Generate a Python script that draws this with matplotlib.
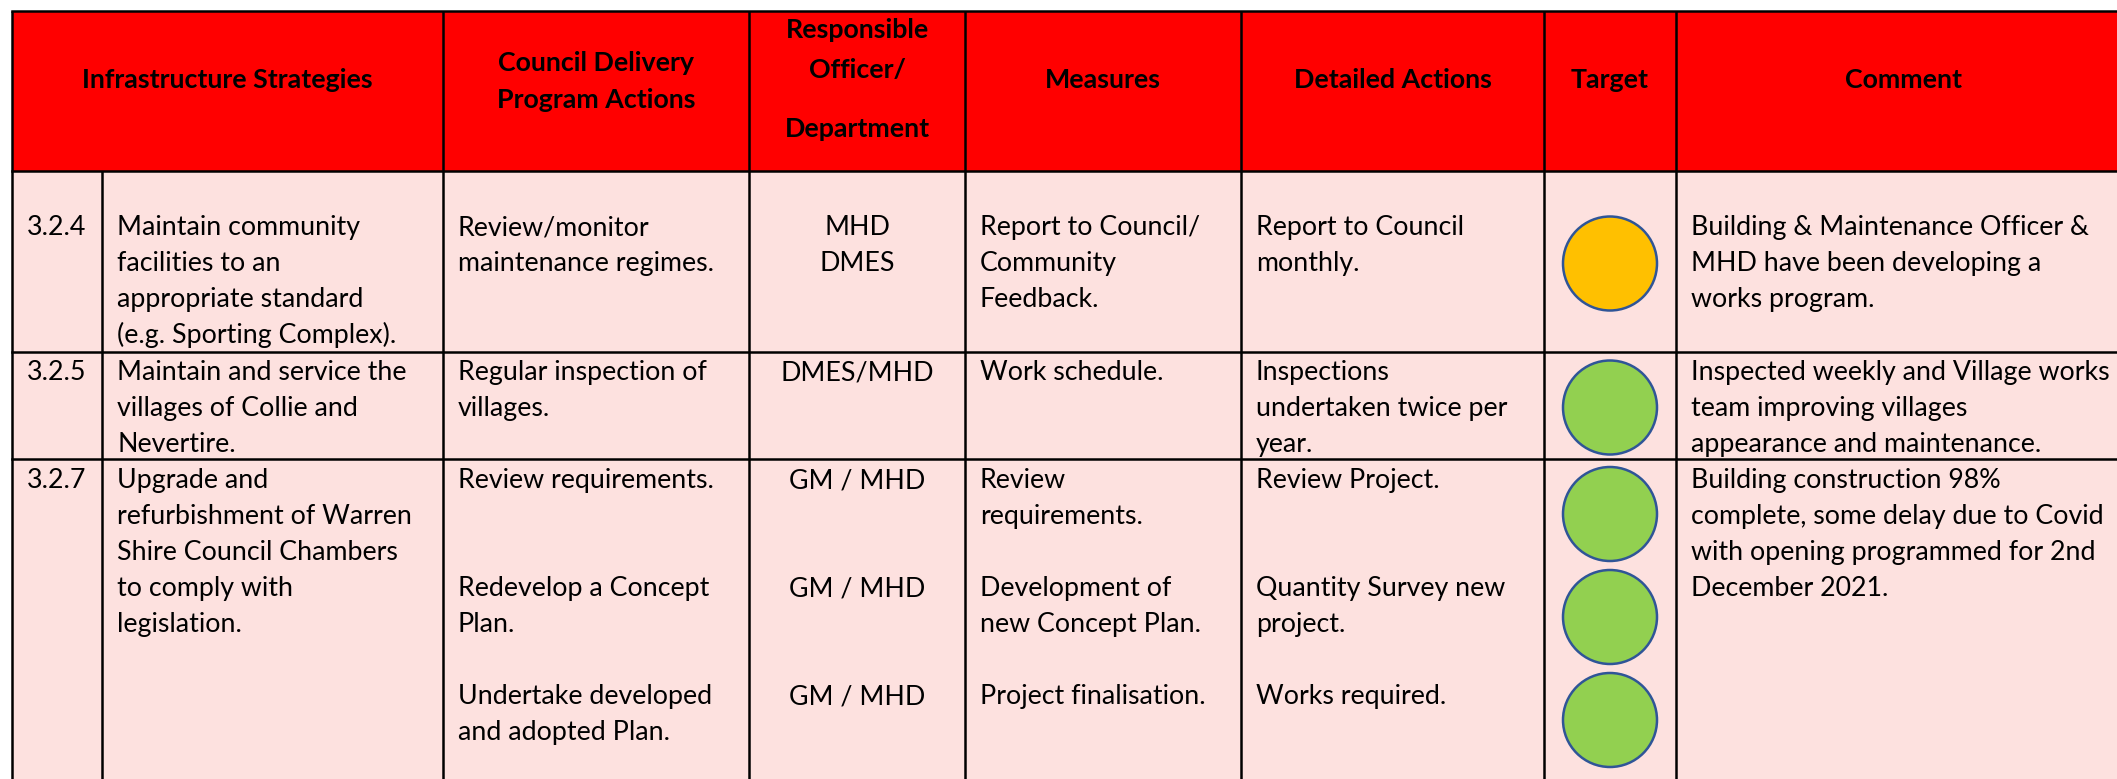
import matplotlib.pyplot as plt
from matplotlib.patches import Rectangle, Circle

plt.rcParams['font.family'] = ['Lato', 'DejaVu Sans']

# table content
headers = ['Infrastructure Strategies', 'Council Delivery\nProgram Actions',
           'Responsible\nOfficer/\nDepartment', 'Measures', 'Detailed Actions',
           'Target', 'Comment']

ids = ['3.2.4', '3.2.5', '3.2.7']
strategies = ['Maintain community\nfacilities to an\nappropriate standard\n(e.g. Sporting Complex).',
              'Maintain and service the\nvillages of Collie and\nNevertire.',
              'Upgrade and\nrefurbishment of Warren\nShire Council Chambers\nto comply with\nlegislation.']
delivery_actions = ['Review/monitor\nmaintenance regimes.',
                    'Regular inspection of\nvillages.',
                    'Review requirements.\n\n\nRedevelop a Concept\nPlan.\n\nUndertake developed\nand adopted Plan.']
officers = ['MHD\nDMES',
            'DMES/MHD',
            'GM / MHD\n\n\nGM / MHD\n\n\nGM / MHD']
measures = ['Report to Council/\nCommunity\nFeedback.',
            'Work schedule.',
            'Review\nrequirements.\n\nDevelopment of\nnew Concept Plan.\n\nProject finalisation.']
detailed_actions = ['Report to Council\nmonthly.',
                    'Inspections\nundertaken twice per\nyear.',
                    'Review Project.\n\n\nQuantity Survey new\nproject.\n\nWorks required.']
targets = [['amber'], ['green'], ['green', 'green', 'green']]
comments = ['Building & Maintenance Officer &\nMHD have been developing a\nworks program.',
            'Inspected weekly and Village works\nteam improving villages\nappearance and maintenance.',
            'Building construction 98%\ncomplete, some delay due to Covid\nwith opening programmed for 2nd\nDecember 2021.']

status_colors = {'amber': '#FFC000', 'green': '#92D050'}

# layout (pixels)
W, H = 2117, 779
col_x = [12, 102, 443, 749, 965, 1241, 1544, 1676, 2130]
row_y = [11, 171, 352, 459, 800]
first_base = [64, 28, 29]
line_step = 36
pad = 15
fs = 19.3

fig = plt.figure(figsize=(W / 100, H / 100), dpi=100)
ax = fig.add_axes([0, 0, 1, 1])
ax.set_xlim(0, W)
ax.set_ylim(H, 0)
ax.axis('off')

ax.add_patch(Rectangle((col_x[0], row_y[0]), col_x[-1] - col_x[0], row_y[1] - row_y[0],
                       facecolor='#FF0000', edgecolor='none'))
ax.add_patch(Rectangle((col_x[0], row_y[1]), col_x[-1] - col_x[0], row_y[-1] - row_y[1],
                       facecolor='#FDE1DF', edgecolor='none'))

lw = 1.8
for y in row_y[:-1]:
    ax.plot([col_x[0], col_x[-1]], [y, y], color='black', lw=lw, solid_capstyle='projecting')
for i, x in enumerate(col_x[:-1]):
    top = row_y[1] if i == 1 else row_y[0]
    ax.plot([x, x], [top, H + 5], color='black', lw=lw, solid_capstyle='butt')

# header
header_spans = [(0, 2), (2, 3), (3, 4), (4, 5), (5, 6), (6, 7), (7, 8)]
header_baselines = [[88], [71, 108], [38, 78, 137], [88], [88], [88], [88]]
for text, (c0, c1), bases in zip(headers, header_spans, header_baselines):
    cx = (col_x[c0] + col_x[c1]) / 2
    for line, b in zip(text.split('\n'), bases):
        ax.text(cx, b, line, ha='center', va='baseline', fontsize=fs, fontweight='bold')


def cell_text(col, row, text, align='left'):
    if align == 'center':
        x, ha = (col_x[col] + col_x[col + 1]) / 2, 'center'
    else:
        x, ha = col_x[col] + pad, 'left'
    y0 = row_y[row + 1] + first_base[row]
    for k, line in enumerate(text.split('\n')):
        if line:
            ax.text(x, y0 + k * line_step, line, ha=ha, va='baseline', fontsize=fs)


for r in range(len(ids)):
    cell_text(0, r, ids[r])
    cell_text(1, r, strategies[r])
    cell_text(2, r, delivery_actions[r])
    cell_text(3, r, officers[r], align='center')
    cell_text(4, r, measures[r])
    cell_text(5, r, detailed_actions[r])
    cell_text(7, r, comments[r])

    cx = (col_x[6] + col_x[7]) / 2
    top, bottom = row_y[r + 1], row_y[r + 2]
    if len(targets[r]) == 1:
        centers = [(top + bottom) / 2 + 2]
    else:
        centers = [top + 55 + k * 103 for k in range(len(targets[r]))]
    for status, cy in zip(targets[r], centers):
        ax.add_patch(Circle((cx, cy), 47, facecolor=status_colors[status],
                            edgecolor='#2F5597', lw=1.8))

fig.savefig('out.png', dpi=100)
